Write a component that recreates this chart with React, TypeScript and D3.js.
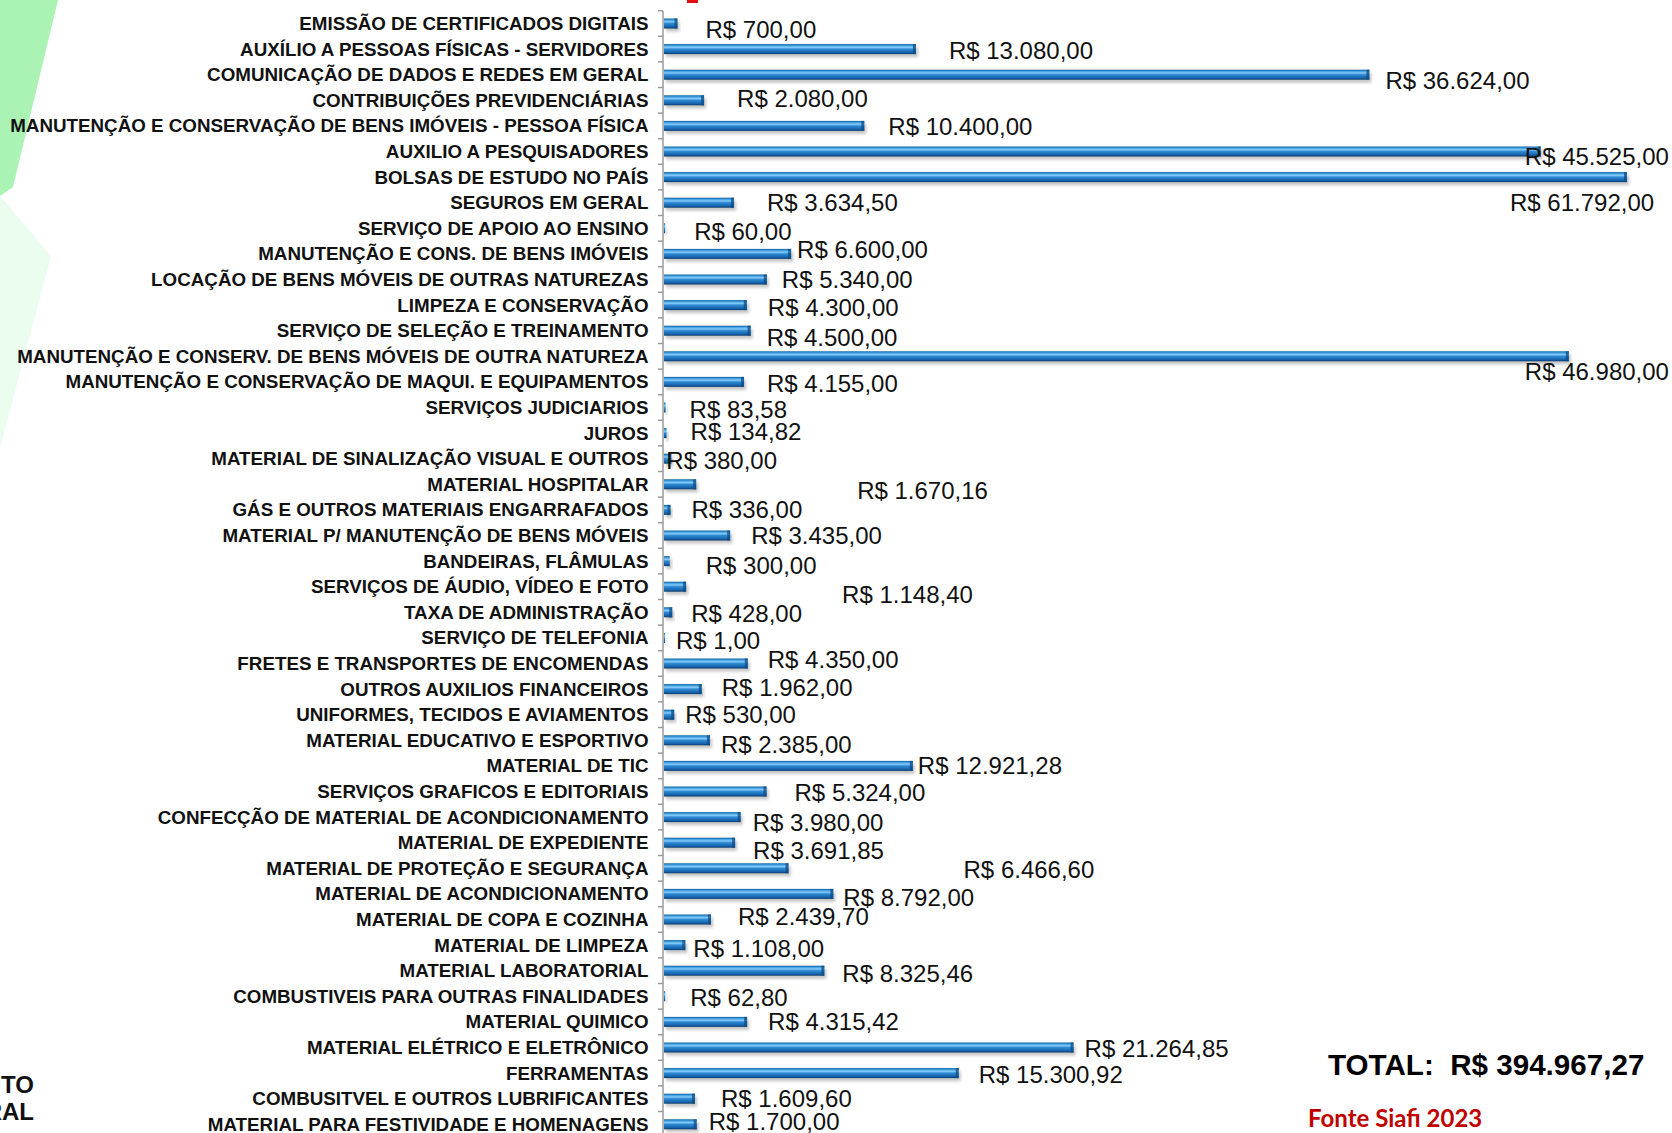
import React from 'react';
import * as d3 from 'd3';

// despesas por natureza (Siafi 2023)
const categories = [
  'EMISSÃO DE CERTIFICADOS DIGITAIS',
  'AUXÍLIO A PESSOAS FÍSICAS - SERVIDORES',
  'COMUNICAÇÃO DE DADOS E REDES EM GERAL',
  'CONTRIBUIÇÕES PREVIDENCIÁRIAS',
  'MANUTENÇÃO E CONSERVAÇÃO DE BENS IMÓVEIS - PESSOA FÍSICA',
  'AUXILIO A PESQUISADORES',
  'BOLSAS DE ESTUDO NO PAÍS',
  'SEGUROS EM GERAL',
  'SERVIÇO DE APOIO AO ENSINO',
  'MANUTENÇÃO E CONS. DE BENS IMÓVEIS',
  'LOCAÇÃO DE BENS MÓVEIS DE OUTRAS NATUREZAS',
  'LIMPEZA E CONSERVAÇÃO',
  'SERVIÇO DE SELEÇÃO E TREINAMENTO',
  'MANUTENÇÃO E CONSERV. DE BENS MÓVEIS DE OUTRA NATUREZA',
  'MANUTENÇÃO E CONSERVAÇÃO DE MAQUI. E EQUIPAMENTOS',
  'SERVIÇOS JUDICIARIOS',
  'JUROS',
  'MATERIAL DE SINALIZAÇÃO VISUAL E OUTROS',
  'MATERIAL HOSPITALAR',
  'GÁS E OUTROS MATERIAIS ENGARRAFADOS',
  'MATERIAL P/ MANUTENÇÃO DE BENS MÓVEIS',
  'BANDEIRAS, FLÂMULAS',
  'SERVIÇOS DE ÁUDIO, VÍDEO E FOTO',
  'TAXA DE ADMINISTRAÇÃO',
  'SERVIÇO DE TELEFONIA',
  'FRETES E TRANSPORTES DE ENCOMENDAS',
  'OUTROS AUXILIOS FINANCEIROS',
  'UNIFORMES, TECIDOS E AVIAMENTOS',
  'MATERIAL EDUCATIVO E ESPORTIVO',
  'MATERIAL DE TIC',
  'SERVIÇOS GRAFICOS E EDITORIAIS',
  'CONFECÇÃO DE MATERIAL DE ACONDICIONAMENTO',
  'MATERIAL DE EXPEDIENTE',
  'MATERIAL DE PROTEÇÃO E SEGURANÇA',
  'MATERIAL DE ACONDICIONAMENTO',
  'MATERIAL DE COPA E COZINHA',
  'MATERIAL DE LIMPEZA',
  'MATERIAL LABORATORIAL',
  'COMBUSTIVEIS PARA OUTRAS FINALIDADES',
  'MATERIAL QUIMICO',
  'MATERIAL ELÉTRICO E ELETRÔNICO',
  'FERRAMENTAS',
  'COMBUSITVEL E OUTROS LUBRIFICANTES',
  'MATERIAL PARA FESTIVIDADE E HOMENAGENS',
];

const values = [
  700, 13080, 36624, 2080, 10400, 45525, 61792, 3634.5, 60, 6600,
  5340, 4300, 4500, 46980, 4155, 83.58, 134.82, 380, 1670.16, 336,
  3435, 300, 1148.4, 428, 1, 4350, 1962, 530, 2385, 12921.28,
  5324, 3980, 3691.85, 6466.6, 8792, 2439.7, 1108, 8325.46, 62.8, 4315.42,
  21264.85, 15300.92, 1609.6, 1700,
];

// data labels were dragged around by hand in the original, [dx, dy] from bar end
const labelNudge: [number, number][] = [
  [29, 6], [34, 1], [17, 6], [34, -2], [25, 0], [-15, 5], [-116, 25], [34, 0], [30, 3], [7, -5],
  [16, 0], [22, 2], [17, 7], [-43, 15], [24, 1], [25, 2], [25, -2], [-4, 2], [162, 6], [22, -1],
  [22, 0], [37, 4], [157, 8], [20, 1], [13, 2], [21, -4], [21, -2], [12, 0], [12, 4], [6, -1],
  [29, 1], [13, 5], [19, 8], [176, 1], [11, 3], [28, -3], [9, 3], [19, 3], [26, 1], [22, -1],
  [12, 1], [21, 1], [27, 0], [13, -3],
];

const axisMax = 50000;
const totalText = 'TOTAL:  R$ 394.967,27';
const sourceText = 'Fonte Siafi 2023';

const brl = d3.formatLocale({
  decimal: ',',
  thousands: '.',
  grouping: [3],
  currency: ['R$ ', ''],
}).format('$,.2f');

const W = 1672;
const H = 1133;

export default function App() {
  const x = d3.scaleLinear().domain([0, axisMax]).range([663, 1626]).clamp(true);
  const y = d3.scaleBand<string>()
    .domain(categories)
    .range([10.7, 10.7 + 25.6 * categories.length])
    .padding(0);
  const bw = y.bandwidth();
  const mid = (c: string) => (y(c) as number) + bw / 2;
  const barH = 10;

  const ticks = d3.range(categories.length + 1).map(i => y.range()[0] + i * y.step());

  return (
    <svg width={W} height={H} style={{ position: 'absolute', left: 0, top: 0, background: '#fff' }}
      fontFamily="'Liberation Sans', Arial, sans-serif">
      <defs>
        <linearGradient id="barGrad" x1="0" y1="0" x2="0" y2="1">
          <stop offset="0" stopColor="#0d5a98" />
          <stop offset="0.15" stopColor="#3d9de0" />
          <stop offset="0.33" stopColor="#86cbf6" />
          <stop offset="0.5" stopColor="#2e8ad6" />
          <stop offset="0.8" stopColor="#1967b0" />
          <stop offset="1" stopColor="#0b3c70" />
        </linearGradient>
        <filter id="shadow" x="-5%" y="-50%" width="110%" height="200%">
          <feGaussianBlur stdDeviation="1.6" />
        </filter>
      </defs>

      {/* background decoration */}
      <polygon points="0,0 58,0 13,187 0,196" fill="#aaf3b4" />
      <polygon points="0,196 51,256 0,448" fill="#ebfdef" />
      <rect x={687} y={0} width={11} height={3} fill="#e01010" />
      <text x={34} y={1093} textAnchor="end" fontWeight="bold" fontSize={24} fill="#111">INSTITUTO</text>
      <text x={34} y={1120} textAnchor="end" fontWeight="bold" fontSize={24} fill="#111">FEDERAL</text>

      {/* axis */}
      <line x1={663} x2={663} y1={ticks[0]} y2={H} stroke="#9a9a9a" strokeWidth={1.5} />
      {ticks.map((t, i) => (
        <line key={i} x1={658} x2={663} y1={t} y2={t} stroke="#9a9a9a" strokeWidth={1.5} />
      ))}

      {/* category labels */}
      {categories.map(c => (
        <text key={c} x={648.5} y={mid(c)} textAnchor="end" dy="0.35em" fontWeight="bold" fontSize={18.8} fill="#111">{c}</text>
      ))}

      {/* bars */}
      {categories.map((c, i) => {
        const w = Math.max(x(values[i]) - x(0), 1);
        const top = mid(c) - 5;
        return (
          <g key={c}>
            <rect x={x(0) + 3} y={top + 3} width={w} height={barH} fill="#8a8a8a" opacity={0.5} filter="url(#shadow)" />
            <rect x={x(0) + 1} y={top} width={w} height={barH} fill="url(#barGrad)" />
            {w > 6 && <rect x={x(0) + w - 2} y={top} width={3} height={barH} fill="#0c4c86" opacity={0.75} />}
          </g>
        );
      })}

      {/* value labels */}
      {categories.map((c, i) => (
        <text key={c} x={x(values[i]) + labelNudge[i][0]} y={mid(c) + labelNudge[i][1]} dy="0.36em"
          fontSize={24} fill="#111">{brl(values[i])}</text>
      ))}

      <text x={1328} y={1075} fontWeight="bold" fontSize={29.6} fill="#000" style={{ whiteSpace: 'pre' }}>{totalText}</text>
      <text x={1308} y={1127} fontWeight="bold" fontSize={24} fill="#c00000" fontFamily="Lato, 'Noto Sans', sans-serif">{sourceText}</text>
    </svg>
  );
}
